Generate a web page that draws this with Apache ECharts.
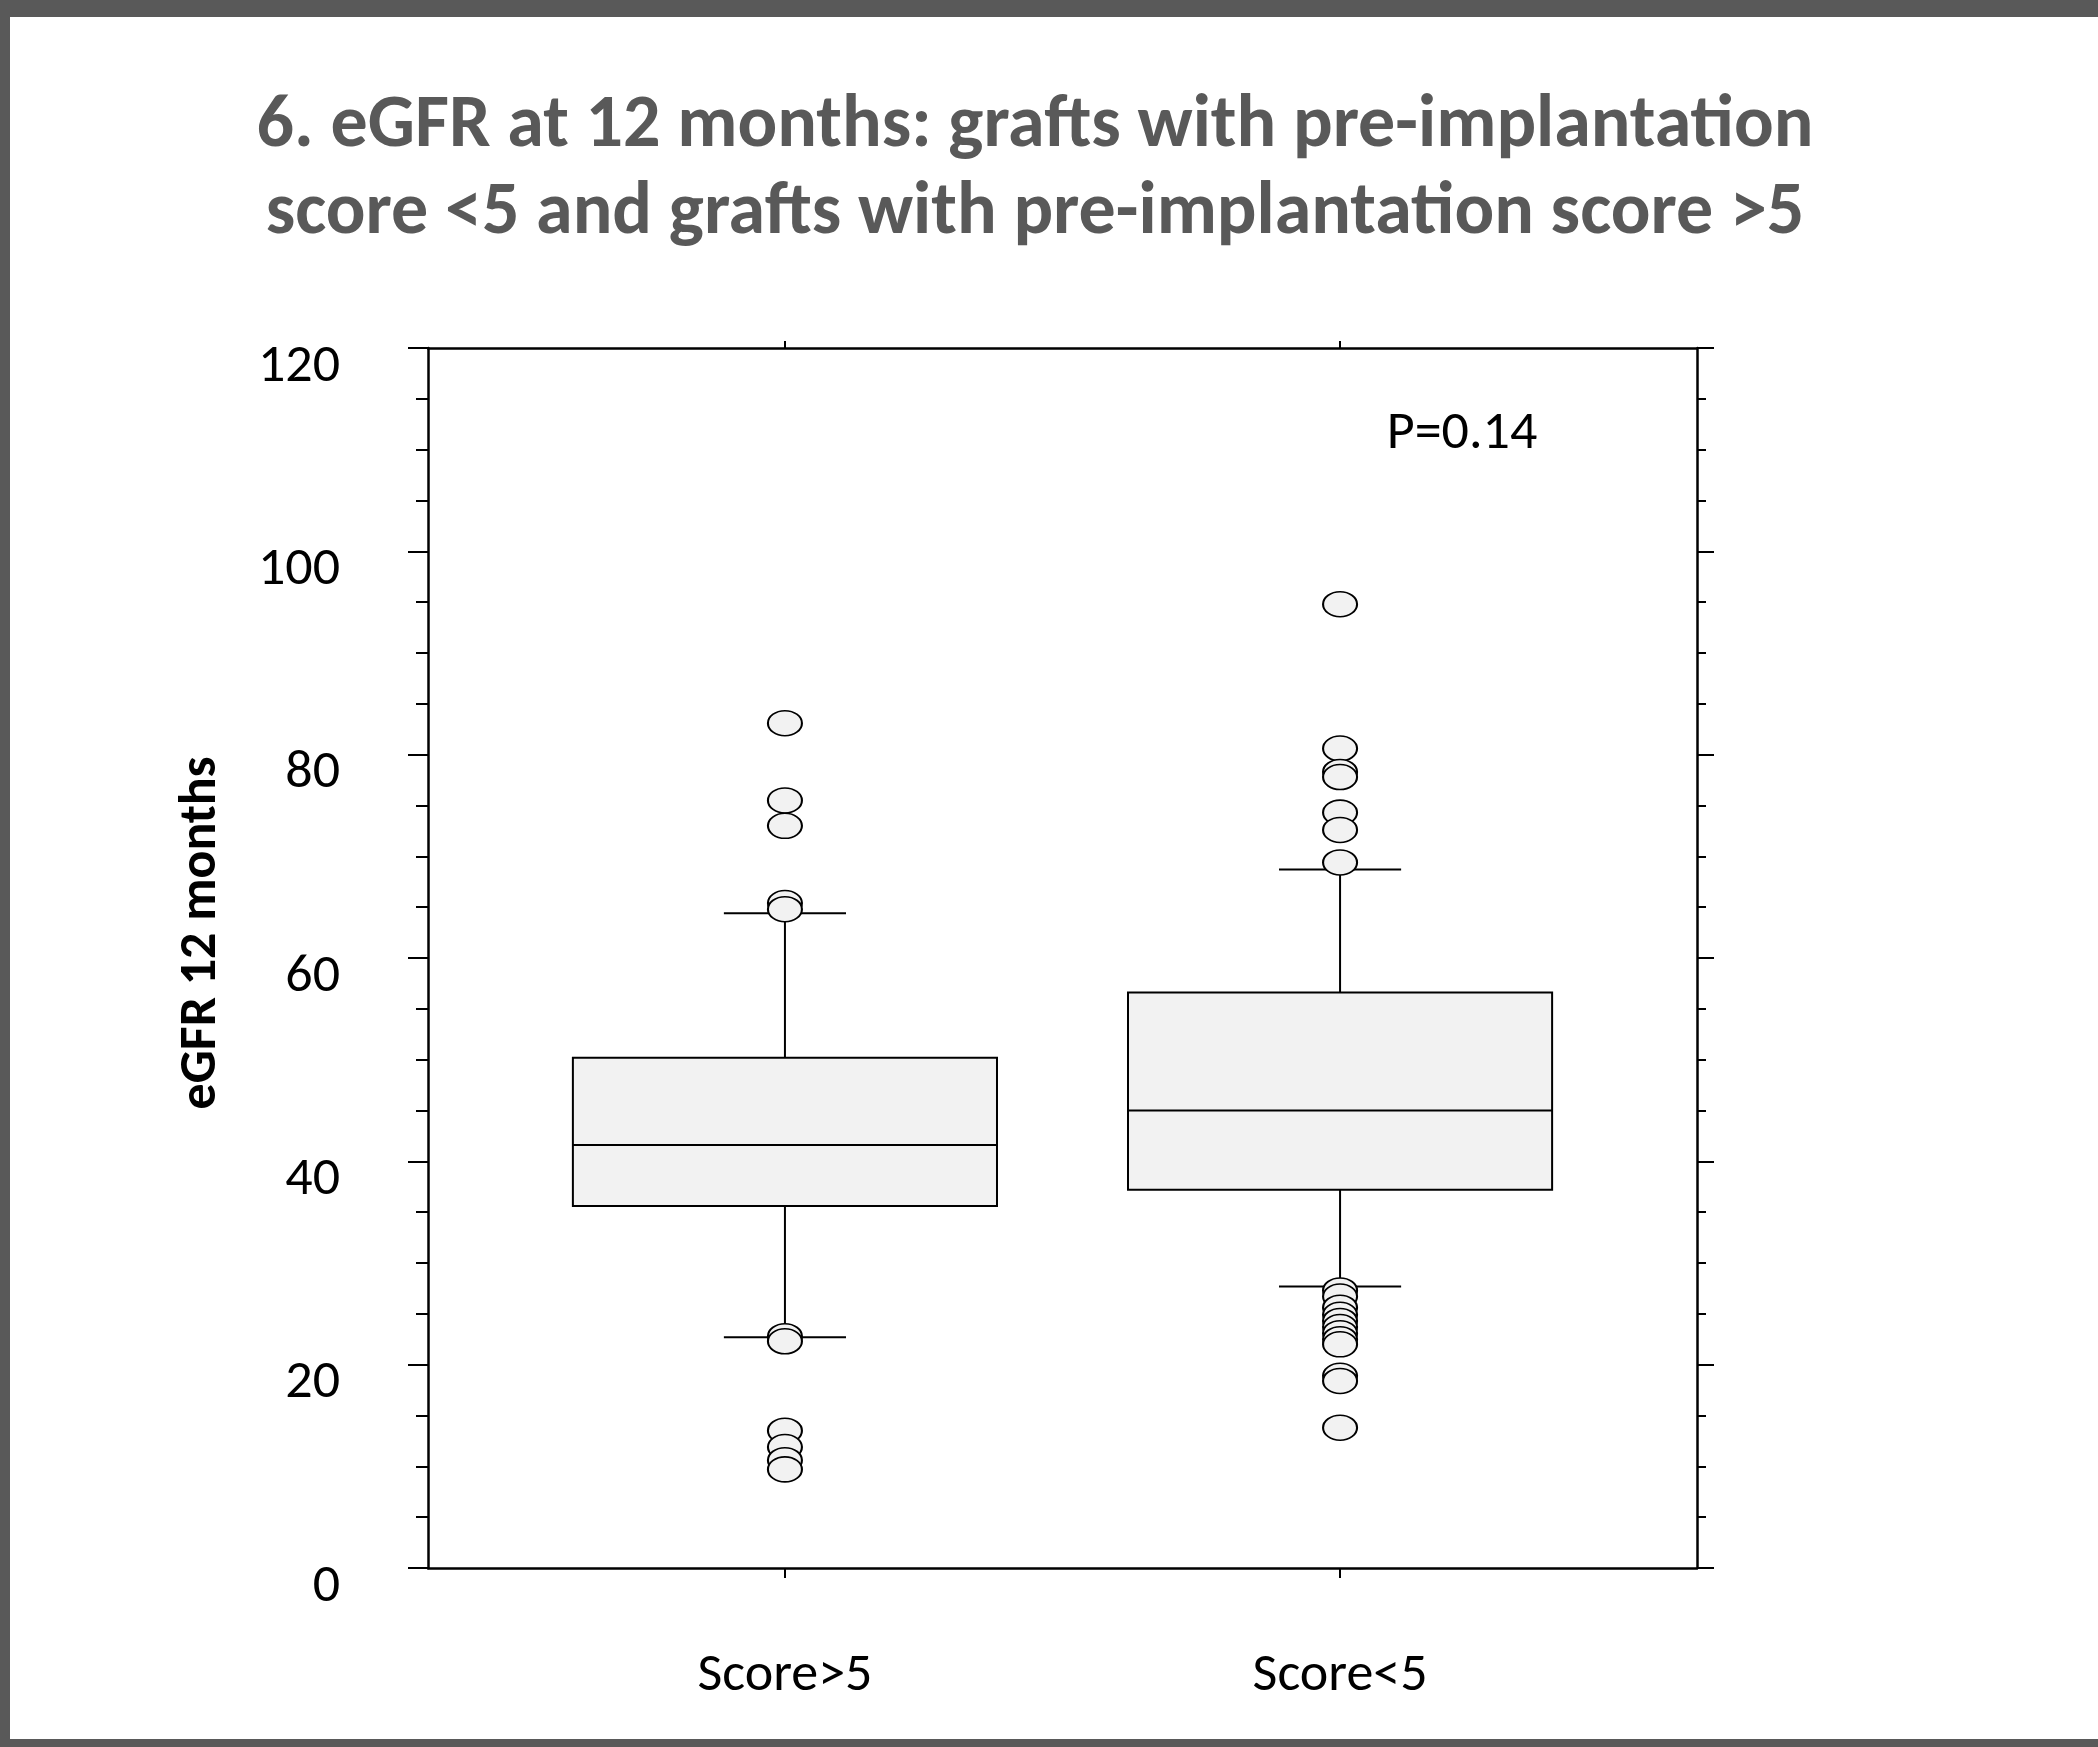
<!DOCTYPE html>
<html>
<head>
<meta charset="utf-8">
<script src="https://cdn.jsdelivr.net/npm/echarts@6/dist/echarts.min.js"></script>
<style>
html,body{margin:0;padding:0;background:#fff;}
#chart{width:2098px;height:1747px;}
</style>
</head>
<body>
<div id="chart"></div>
<script>
// ---- data ----
const categories = ['Score>5', 'Score<5'];
const categoryPos = [1, 2];
const whiskerLow = [22.7, 27.7];
const q1 = [35.6, 37.2];
const median = [41.6, 45.0];
const q3 = [50.2, 56.6];
const whiskerHigh = [64.4, 68.7];
const outliersScoreGt5 = [83.1, 75.5, 73.0, 65.4, 64.8, 22.8, 22.3, 13.5, 11.9, 10.6, 9.7];
const outliersScoreLt5 = [94.8, 80.6, 78.3, 77.8, 74.3, 72.6, 69.4, 27.3, 26.7, 25.6, 24.9, 24.3, 23.7, 23.1, 22.5, 22.0, 18.9, 18.4, 13.8];
const yTicks = [0, 20, 40, 60, 80, 100, 120];
const titleText = '6. eGFR at 12 months: grafts with pre-implantation\nscore <5 and grafts with pre-implantation score >5';
const yAxisTitle = 'eGFR 12 months';
const pValueText = 'P=0.14';

const FONT = 'Carlito, Calibri, Lato, sans-serif';

const boxData = categoryPos.map((x, i) => [x, whiskerLow[i], q1[i], median[i], q3[i], whiskerHigh[i]]);
const outlierData = [
  outliersScoreGt5.map(v => [categoryPos[0], v]),
  outliersScoreLt5.map(v => [categoryPos[1], v])
];

function renderBox(params, api) {
  const x = api.value(0);
  const unit = api.size([1, 0])[0];
  const bw = unit * 0.382, cw = unit * 0.11;
  const pLow = api.coord([x, api.value(1)]);
  const pQ1 = api.coord([x, api.value(2)]);
  const pMed = api.coord([x, api.value(3)]);
  const pQ3 = api.coord([x, api.value(4)]);
  const pHigh = api.coord([x, api.value(5)]);
  const cx = pMed[0];
  const ls = {stroke: '#000', lineWidth: 2};
  return {
    type: 'group',
    children: [
      {type: 'line', shape: {x1: cx, y1: pQ3[1], x2: cx, y2: pHigh[1]}, style: ls},
      {type: 'line', shape: {x1: cx, y1: pQ1[1], x2: cx, y2: pLow[1]}, style: ls},
      {type: 'line', shape: {x1: cx - cw, y1: pHigh[1], x2: cx + cw, y2: pHigh[1]}, style: ls},
      {type: 'line', shape: {x1: cx - cw, y1: pLow[1], x2: cx + cw, y2: pLow[1]}, style: ls},
      {type: 'rect', shape: {x: cx - bw, y: pQ3[1], width: 2 * bw, height: pQ1[1] - pQ3[1]},
        style: {fill: '#f2f2f2', stroke: '#000', lineWidth: 2}},
      {type: 'line', shape: {x1: cx - bw, y1: pMed[1], x2: cx + bw, y2: pMed[1]}, style: ls}
    ]
  };
}

const chart = echarts.init(document.getElementById('chart'), null, {renderer: 'canvas'});
const axisLine = {show: true, onZero: false, lineStyle: {color: '#000', width: 2.5}};
const option = {
  backgroundColor: '#ffffff',
  animation: false,
  grid: {left: 428, right: 401, top: 348, bottom: 179, containLabel: false},
  xAxis: [
    {
      type: 'value', position: 'bottom', min: 0.357, max: 2.643,
      axisLine: axisLine,
      splitLine: {show: false},
      axisTick: {show: true, customValues: categoryPos, length: 10, lineStyle: {color: '#000', width: 2}},
      axisLabel: {show: true, customValues: categoryPos, margin: 81, fontSize: 54, color: '#000', fontFamily: FONT,
        formatter: v => categories[categoryPos.indexOf(Math.round(v))] || ''}
    },
    {
      type: 'value', position: 'top', min: 0.357, max: 2.643,
      axisLine: axisLine,
      splitLine: {show: false},
      axisTick: {show: true, customValues: categoryPos, length: 7, lineStyle: {color: '#000', width: 2}},
      axisLabel: {show: false}
    }
  ],
  yAxis: [
    {
      type: 'value', position: 'left', min: 0, max: 120, interval: 20,
      name: yAxisTitle, nameLocation: 'middle', nameRotate: 90, nameGap: 200,
      nameTextStyle: {fontSize: 52, fontWeight: 'bold', color: '#000', fontFamily: FONT, padding: [0, 0, 0, 50]},
      axisLine: axisLine,
      splitLine: {show: false},
      axisTick: {show: true, length: 20, lineStyle: {color: '#000', width: 2}},
      minorTick: {show: true, splitNumber: 4, length: 12, lineStyle: {color: '#000', width: 2}},
      axisLabel: {show: true, margin: 88, fontSize: 54, color: '#000', fontFamily: FONT,
        verticalAlign: 'top', lineHeight: 38, customValues: yTicks}
    },
    {
      type: 'value', position: 'right', min: 0, max: 120, interval: 20,
      axisLine: axisLine,
      splitLine: {show: false},
      axisTick: {show: true, length: 17, lineStyle: {color: '#000', width: 2}},
      minorTick: {show: true, splitNumber: 4, length: 9, lineStyle: {color: '#000', width: 2}},
      axisLabel: {show: false}
    }
  ],
  graphic: [
    {type: 'rect', left: 0, top: 0, shape: {width: 2098, height: 17}, style: {fill: '#595959'}, z: 100},
    {type: 'rect', left: 0, top: 0, shape: {width: 10, height: 1747}, style: {fill: '#595959'}, z: 100},
    {type: 'rect', left: 0, top: 1739, shape: {width: 2098, height: 8}, style: {fill: '#595959'}, z: 100},
    {type: 'text', x: 1035, y: 171, z: 100,
      style: {text: titleText, fontSize: 74, fontWeight: 'bold', fill: '#595959', fontFamily: FONT,
        lineHeight: 87, align: 'center', verticalAlign: 'middle'}},
    {type: 'text', x: 1462, y: 434, z: 100,
      style: {text: pValueText, fontSize: 54, fill: '#000', fontFamily: FONT, align: 'center', verticalAlign: 'middle'}}
  ],
  series: [
    {
      type: 'custom', name: 'box', xAxisIndex: 0, yAxisIndex: 0,
      renderItem: renderBox, data: boxData,
      encode: {x: 0, y: [1, 2, 3, 4, 5]}, z: 2
    },
    {
      type: 'scatter', name: 'Score>5 outliers', xAxisIndex: 0, yAxisIndex: 0,
      data: outlierData[0], symbol: 'circle', symbolSize: [34, 25], z: 5,
      itemStyle: {color: '#f2f2f2', borderColor: '#000', borderWidth: 1.8, opacity: 1}
    },
    {
      type: 'scatter', name: 'Score<5 outliers', xAxisIndex: 0, yAxisIndex: 0,
      data: outlierData[1], symbol: 'circle', symbolSize: [34, 25], z: 5,
      itemStyle: {color: '#f2f2f2', borderColor: '#000', borderWidth: 1.8, opacity: 1}
    }
  ]
};
chart.setOption(option);
</script>
</body>
</html>
